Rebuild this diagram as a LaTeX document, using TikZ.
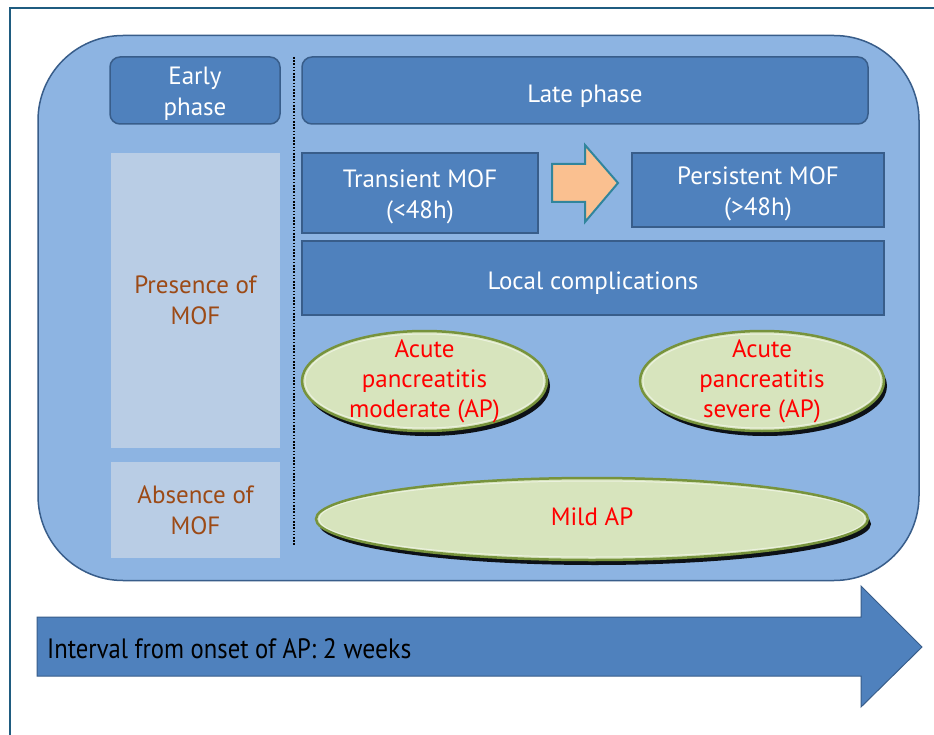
\documentclass[tikz,border=0pt]{standalone}
\usepackage{fontspec}
\setmainfont{PT Sans}
\usetikzlibrary{shapes.geometric,shadows}
\definecolor{bgblue}{HTML}{8DB4E2}
\definecolor{boxblue}{HTML}{4F81BD}
\definecolor{edgeblue}{HTML}{385D8A}
\definecolor{lightbox}{HTML}{B9CDE5}
\definecolor{txtbrown}{HTML}{9C4A16}
\definecolor{ellfill}{HTML}{D7E4BD}
\definecolor{elledge}{HTML}{77933C}
\definecolor{orangef}{HTML}{FAC090}
\definecolor{tealedge}{HTML}{31859C}
\definecolor{framecol}{HTML}{1F5C80}
\begin{document}
\begin{tikzpicture}[x=1pt,y=-1pt,
  font=\fontsize{25}{31}\selectfont,
  wtext/.style={text=white, align=center, inner sep=0pt, font=\fontsize{25}{31}\selectfont},
  roundbox/.style={draw=edgeblue, line width=1.5pt, fill=boxblue, rounded corners=10pt, inner sep=0pt},
  sqbox/.style={draw=edgeblue, line width=1.5pt, fill=boxblue, inner sep=0pt},
  lightrect/.style={fill=lightbox, text=txtbrown, align=center, inner sep=0pt},
  ell/.style={ellipse, draw=elledge, line width=2.5pt, fill=ellfill, inner sep=0pt,
    drop shadow={shadow xshift=3pt, shadow yshift=-5pt, opacity=0.9, fill=black}},
  ellrim/.style={ellipse, draw=white, draw opacity=0.5, line width=1pt, inner sep=0pt},
  elltext/.style={text=red, align=center, inner sep=0pt, font=\fontsize{25}{30}\selectfont}
]
\useasboundingbox (0,0) rectangle (934,735);
\fill[white] (0,0) rectangle (934,735);
% outer frame
\draw[framecol, line width=2pt] (10,735) -- (10,8) -- (934,8);
% big rounded panel
\node[draw=edgeblue, line width=1.5pt, fill=bgblue, rounded corners=85pt,
  minimum width=881pt, minimum height=545pt, inner sep=0pt] (panel) at (478.5,308) {};
% dotted divider
\coordinate (dtop) at (294,57);
\coordinate (dbot) at (294,545);
\draw[line width=1.6pt, dash pattern=on 1.6pt off 1.6pt] (dtop) -- (dbot);
% headers
\node[roundbox, minimum width=170pt, minimum height=67pt,
  label={[wtext, yshift=-3.5pt]center:{Early\\phase}}] (early) at (195,90.5) {};
\node[roundbox, minimum width=566pt, minimum height=67pt,
  label={[wtext, yshift=-6pt]center:{Late phase}}] (late) at (585,90.5) {};
% left light rects
\node[lightrect, minimum width=169pt, minimum height=295pt] (presence) at (195.5,300.5) {Presence of\\MOF};
\node[lightrect, minimum width=169pt, minimum height=96pt] (absence) at (195.5,510) {Absence of\\MOF};
% MOF boxes
\node[sqbox, minimum width=236pt, minimum height=80pt,
  label={[wtext, yshift=-4pt]center:{Transient MOF\\(<48h)}}] (transient) at (420,193) {};
\node[sqbox, minimum width=252pt, minimum height=74pt,
  label={[wtext, yshift=-4pt]center:{Persistent MOF\\(>48h)}}] (persistent) at (758,190) {};
\node[sqbox, minimum width=582pt, minimum height=74pt,
  label={[wtext, yshift=-5pt]center:{Local complications}}] (local) at (593,278) {};
% orange arrow
\draw[fill=orangef, draw=tealedge, line width=2pt, line join=miter]
  (552,164) -- (585,164) -- (585,145) -- (618,183) -- (585,222) -- (585,202) -- (552,202) -- cycle;
% ellipses
\node[ell, minimum width=245pt, minimum height=100pt] (moderate) at (424.5,381) {};
\node[ellrim, minimum width=239pt, minimum height=94pt] at (moderate) {};
\node[elltext] (moderatetxt) at (moderate) {Acute\\pancreatitis\\moderate (AP)};
\node[ell, minimum width=244pt, minimum height=100pt] (severe) at (762,381) {};
\node[ellrim, minimum width=238pt, minimum height=94pt] at (severe) {};
\node[elltext] (severetxt) at (severe) {Acute\\pancreatitis\\severe (AP)};
\node[ell, minimum width=552pt, minimum height=82pt] (mild) at (592,519) {};
\node[ellrim, minimum width=546pt, minimum height=76pt] at (mild) {};
\node[elltext, yshift=2pt] (mildtxt) at (mild) {Mild AP};
% timeline arrow
\draw[fill=boxblue, draw=edgeblue, line width=1pt]
  (37,617) -- (861,617) -- (861,586) -- (922,647) -- (861,707) -- (861,676) -- (37,676) -- cycle;
\node[anchor=west, inner sep=0pt] (interval) at (47,649)
  {\scalebox{0.88}[1]{\fontsize{28}{30}\selectfont Interval from onset of AP: }\scalebox{0.92}[1]{\fontsize{28}{30}\selectfont 2 weeks}};
\end{tikzpicture}
\end{document}
